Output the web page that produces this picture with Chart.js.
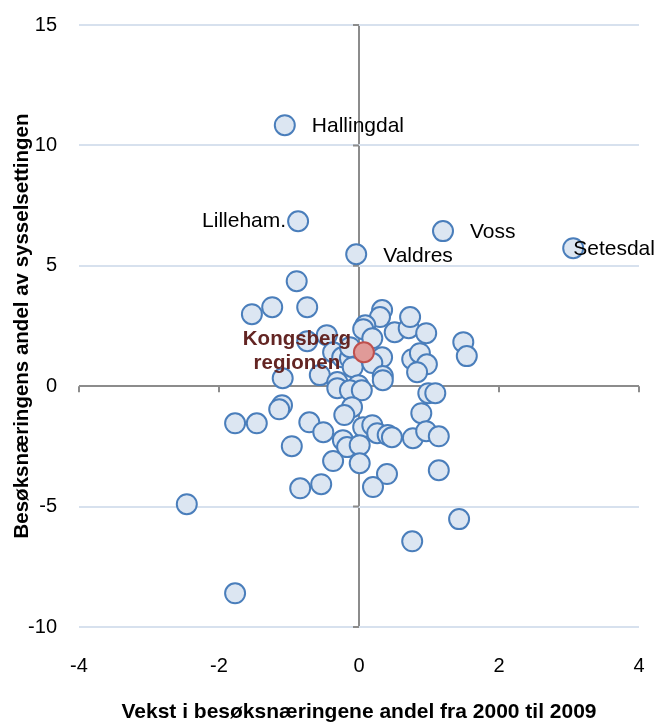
<!DOCTYPE html>
<html lang="no">
<head>
<meta charset="UTF-8">
<title>Besøksnæringene</title>
<script src="https://cdn.jsdelivr.net/npm/chart.js"></script>
<style>
  body { margin: 0; background: #fff; }
  #wrap { width: 656px; height: 722px; }
</style>
</head>
<body>
<div id="wrap"><canvas id="scatter" width="656" height="722"></canvas></div>
<script>
// vekst i andel 2000-2009 (x) og besøksnæringenes andel av sysselsettingen (y)
const growth = [
  -1.06, -0.87, 1.20, 3.06, -0.04, -0.89, -1.53, -1.24, -0.74, -0.46,
  -0.74, -1.09, -0.56, -0.31, -0.37, -0.24, -0.13, -0.09, -0.01, 0.33,
  0.30, 0.09, 0.06, 0.51, 0.19, 0.71, 0.73, 0.33, 0.19, 0.34,
  0.96, 1.49, 1.54, 0.76, 0.87, 0.97, 0.83, -0.31, -0.13, 0.04,
  0.34, 0.99, 1.09, -0.10, -0.21, 0.89, 0.06, 0.19, 0.26, 0.41,
  0.47, 0.77, 0.96, 1.14, -0.23, -0.17, 0.01, -0.37, 0.01, 0.40,
  1.14, 0.20, 1.43, 0.76, -1.10, -1.14, -1.77, -1.46, -0.71, -0.51,
  -0.96, -0.84, -0.54, -2.46, -1.77, -0.13
];
const share = [
  10.84, 6.85, 6.44, 5.73, 5.48, 4.36, 2.99, 3.28, 3.28, 2.12,
  1.87, 0.33, 0.46, 0.17, 1.41, 1.20, 1.16, 0.79, 0.04, 3.16,
  2.87, 2.53, 2.37, 2.24, 1.99, 2.41, 2.87, 1.20, 0.96, 0.42,
  2.20, 1.83, 1.25, 1.12, 1.37, 0.91, 0.58, -0.08, -0.17, -0.17,
  0.25, -0.29, -0.29, -0.87, -1.20, -1.12, -1.70, -1.62, -1.95, -2.03,
  -2.12, -2.16, -1.87, -2.08, -2.24, -2.53, -2.45, -3.11, -3.20, -3.65,
  -3.49, -4.19, -5.52, -6.44, -0.79, -0.96, -1.54, -1.54, -1.50, -1.91,
  -2.49, -4.24, -4.07, -4.90, -8.60, 1.62
];
const regionNames = ['Hallingdal', 'Lilleham.', 'Voss', 'Setesdal', 'Valdres'];

const kongsbergX = [0.07];
const kongsbergY = [1.41];
const kongsbergName = ['Kongsberg', 'regionen'];

const xTicks = [-4, -2, 0, 2, 4];
const yTicks = [-10, -5, 0, 5, 10, 15];

const FONT = "'Liberation Sans', Arial, sans-serif";
const AXIS_GREY = '#8c8c8c';
const GRID = '#d7e1ee';

const regionPoints = growth.map((x, i) => ({ x: x, y: share[i] }));
const kongsbergPoints = kongsbergX.map((x, i) => ({ x: x, y: kongsbergY[i] }));

// fixed axis boxes so the plot area lands where we want it
function fixBox(size) {
  return scale => {
    if (scale.isHorizontal()) scale.height = size; else scale.width = size;
    scale.paddingTop = 0;
    scale.paddingBottom = 0;
    scale.paddingLeft = 0;
    scale.paddingRight = 0;
  };
}

// small tick marks on the axes that cross at origo
const crossTicks = {
  id: 'crossTicks',
  beforeDatasetsDraw(chart) {
    const { ctx, scales: { x, y } } = chart;
    const x0 = x.getPixelForValue(0);
    const y0 = y.getPixelForValue(0);
    ctx.save();
    ctx.strokeStyle = AXIS_GREY;
    ctx.lineWidth = 2;
    ctx.beginPath();
    xTicks.forEach(v => {
      const px = x.getPixelForValue(v);
      ctx.moveTo(px, y0);
      ctx.lineTo(px, y0 + 6);
    });
    yTicks.forEach(v => {
      const py = y.getPixelForValue(v);
      ctx.moveTo(x0 - 6, py);
      ctx.lineTo(x0, py);
    });
    ctx.stroke();
    ctx.restore();
  }
};

// region names next to their bubbles
const pointLabels = {
  id: 'pointLabels',
  afterDatasetsDraw(chart) {
    const { ctx } = chart;
    const place = {
      'Hallingdal': [27, 1, 'left'],
      'Lilleham.': [-12, 0, 'right'],
      'Voss': [27, 1, 'left'],
      'Setesdal': [0, 1, 'left'],
      'Valdres': [27, 2, 'left']
    };
    const meta = chart.getDatasetMeta(1);
    ctx.save();
    ctx.font = '21px ' + FONT;
    ctx.fillStyle = '#000';
    ctx.textBaseline = 'middle';
    regionNames.forEach((name, i) => {
      const el = meta.data[i];
      const p = place[name];
      ctx.textAlign = p[2];
      ctx.fillText(name, el.x + p[0], el.y + p[1]);
    });

    const k = chart.getDatasetMeta(0).data[0];
    ctx.font = 'bold 20.5px ' + FONT;
    ctx.fillStyle = '#632523';
    ctx.textAlign = 'center';
    ctx.fillText(kongsbergName[0], k.x - 67, k.y - 13);
    ctx.fillText(kongsbergName[1], k.x - 67, k.y + 11);
    ctx.restore();
  }
};

new Chart(document.getElementById('scatter'), {
  type: 'scatter',
  data: {
    datasets: [
      {
        label: 'Kongsbergregionen',
        data: kongsbergPoints,
        pointRadius: 10,
        pointBorderWidth: 2,
        backgroundColor: '#e09a98',
        borderColor: '#c0504d'
      },
      {
        label: 'Regioner',
        data: regionPoints,
        pointRadius: 10,
        pointBorderWidth: 2,
        backgroundColor: '#dce6f2',
        borderColor: '#4a7ebb'
      }
    ]
  },
  options: {
    responsive: false,
    animation: false,
    layout: { padding: { top: 25, right: 17, left: 0, bottom: 0 } },
    plugins: {
      legend: { display: false },
      tooltip: { enabled: false }
    },
    scales: {
      x: {
        type: 'linear',
        min: -4,
        max: 4,
        afterFit: fixBox(95),
        afterBuildTicks(scale) { scale.ticks = xTicks.map(v => ({ value: v })); },
        border: { display: false },
        grid: {
          drawTicks: false,
          lineWidth: 2,
          color: c => c.tick && c.tick.value === 0 ? AXIS_GREY : 'rgba(0,0,0,0)'
        },
        ticks: {
          padding: 27,
          maxRotation: 0,
          autoSkip: false,
          color: '#000',
          font: { family: FONT, size: 20 }
        },
        title: {
          display: true,
          text: 'Vekst i besøksnæringene andel fra 2000 til 2009',
          color: '#000',
          padding: { top: 0, bottom: -3 },
          font: { family: FONT, size: 21, weight: 'bold' }
        }
      },
      y: {
        type: 'linear',
        min: -10,
        max: 15,
        afterFit: fixBox(79),
        afterBuildTicks(scale) { scale.ticks = yTicks.map(v => ({ value: v })); },
        border: { display: false },
        grid: {
          drawTicks: false,
          lineWidth: 2,
          color: c => c.tick && c.tick.value === 0 ? AXIS_GREY : GRID
        },
        ticks: {
          padding: 22,
          color: '#000',
          font: { family: FONT, size: 20 }
        },
        title: {
          display: true,
          text: 'Besøksnæringens andel av sysselsettingen',
          color: '#000',
          padding: { top: 10, bottom: 0 },
          font: { family: FONT, size: 20.5, weight: 'bold' }
        }
      }
    }
  },
  plugins: [crossTicks, pointLabels]
});
</script>
</body>
</html>
